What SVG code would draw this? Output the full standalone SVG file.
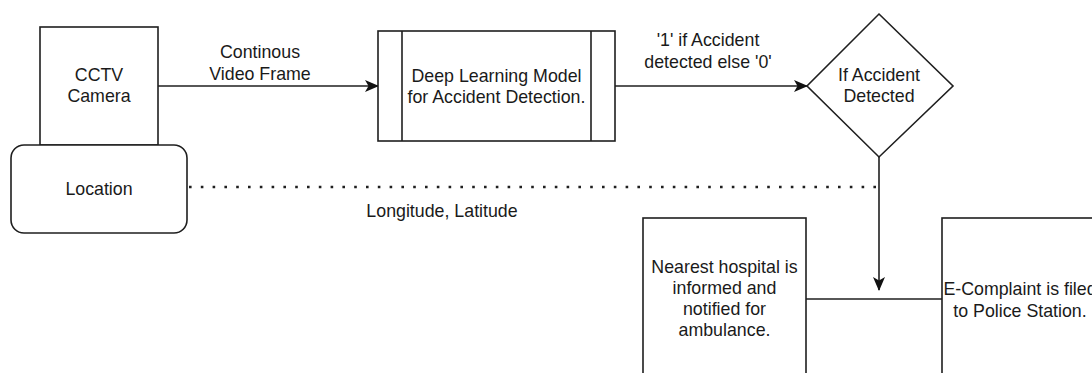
<svg xmlns="http://www.w3.org/2000/svg" width="1092" height="373" viewBox="0 0 1092 373">
  <style>
    .shape { fill: #ffffff; stroke: #1f1f1f; stroke-width: 1.6; }
    .edge { fill: none; stroke: #1f1f1f; stroke-width: 1.6; }
    .dots { fill: none; stroke: #1f1f1f; stroke-width: 2.6; stroke-dasharray: 2.6 9.2; }
    text { font-family: "Liberation Sans", Arial, sans-serif; font-size: 17.8px; fill: #1a1a1a; text-anchor: middle; }
  </style>
  <defs>
    <marker id="arrow" viewBox="0 0 14 12" refX="13" refY="6" markerWidth="14" markerHeight="12" markerUnits="userSpaceOnUse" orient="auto">
      <path d="M0,0 L14,6 L0,12 L3.5,6 Z" fill="#111111"/>
    </marker>
  </defs>

  <rect width="1092" height="373" fill="#ffffff"/>

  <!-- connectors -->
  <g id="connectors">
    <line class="edge" x1="158" y1="86" x2="378" y2="86" marker-end="url(#arrow)"/>
    <line class="edge" x1="615" y1="86" x2="807" y2="86" marker-end="url(#arrow)"/>
    <line class="edge" x1="879" y1="157" x2="879" y2="290" marker-end="url(#arrow)"/>
    <line class="edge" x1="806" y1="299" x2="942" y2="299"/>
    <line class="dots" x1="189" y1="187" x2="876" y2="187"/>
    <text x="260" y="58">Continous</text>
    <text x="260" y="80">Video Frame</text>
    <text x="708" y="46">'1' if Accident</text>
    <text x="708" y="68">detected else '0'</text>
    <text x="442" y="217">Longitude, Latitude</text>
  </g>

  <!-- camera -->
  <g id="cctv">
    <rect class="shape" x="40" y="27" width="118" height="118"/>
    <text x="99" y="81">CCTV</text>
    <text x="99" y="102">Camera</text>
  </g>

  <!-- location -->
  <g id="location">
    <rect class="shape" x="11" y="145" width="176" height="88" rx="13" ry="13"/>
    <text x="99" y="195">Location</text>
  </g>

  <!-- model (predefined process) -->
  <g id="model">
    <rect class="shape" x="378" y="31" width="237" height="110"/>
    <line class="edge" x1="402" y1="31" x2="402" y2="141"/>
    <line class="edge" x1="591" y1="31" x2="591" y2="141"/>
    <text x="496.5" y="82">Deep Learning Model</text>
    <text x="496.5" y="103">for Accident Detection.</text>
  </g>

  <!-- decision -->
  <g id="decision">
    <polygon class="shape" points="879,14 953,86 879,157 807,86"/>
    <text x="879" y="81">If Accident</text>
    <text x="879" y="102">Detected</text>
  </g>

  <!-- hospital -->
  <g id="hospital">
    <rect class="shape" x="643" y="218" width="163" height="170"/>
    <text x="724.5" y="273">Nearest hospital is</text>
    <text x="724.5" y="294">informed and</text>
    <text x="724.5" y="315">notified for</text>
    <text x="724.5" y="336">ambulance.</text>
  </g>

  <!-- police -->
  <g id="police">
    <rect class="shape" x="942" y="218" width="170" height="170"/>
    <text x="1020" y="295">E-Complaint is filed</text>
    <text x="1020" y="317">to Police Station.</text>
  </g>
</svg>
